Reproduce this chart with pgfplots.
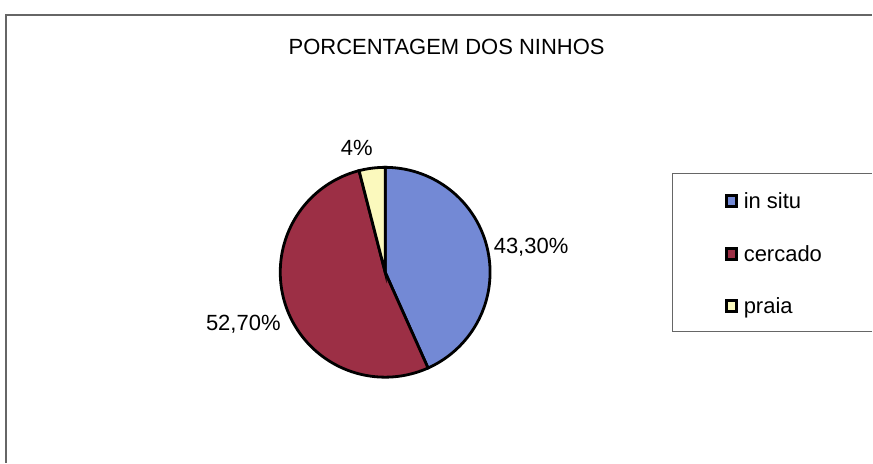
\documentclass[border=0pt]{standalone}
\usepackage{pgfplots}
\pgfplotsset{compat=1.18}
\usepackage{pgfplotstable}
\usepackage{fontspec}
\setmainfont{Liberation Sans}
\definecolor{cblue}{HTML}{7389D5}
\definecolor{cred}{HTML}{9C2F45}
\definecolor{cyel}{HTML}{FBF9BD}
\pgfplotstableread{
label value
insitu 43.3
cercado 52.7
praia 4
}\piedata
\pgfplotstablegetelem{0}{value}\of\piedata \let\va\pgfplotsretval
\pgfplotstablegetelem{1}{value}\of\piedata \let\vb\pgfplotsretval
\pgfplotstablegetelem{2}{value}\of\piedata \let\vc\pgfplotsretval
\pgfmathsetmacro\aA{90}
\pgfmathsetmacro\aB{90-3.6*\va}
\pgfmathsetmacro\aC{\aB-3.6*\vb}
\pgfmathsetmacro\aD{\aC-3.6*\vc}
\def\cx{385.5}
\def\cy{190.5}
\def\rr{105}
\begin{document}
\begin{tikzpicture}
\begin{axis}[
  scale only axis, width=873pt, height=463pt,
  xmin=0, xmax=873, ymin=0, ymax=463,
  hide axis, clip=false,
  legend image code/.code={\draw[#1, draw=black, line width=3.2pt] (0pt,-5pt) rectangle (10pt,6pt);},
  legend style={at={(axis cs:725,271)}, anchor=north west, draw=none, fill=none,
    inner sep=0pt, row sep=33pt, column sep=5pt, font=\fontsize{22}{22}\selectfont,
    nodes={inner sep=1pt}},
  legend cell align=left,
]
\path (axis cs:0,0) rectangle (axis cs:873,463);
\draw[black!60, line width=1.5pt] (axis cs:6,0) -- (axis cs:6,448) -- (axis cs:873,448);
\draw[black!60, line width=1.2pt] (axis cs:873,131) -- (axis cs:673,131) -- (axis cs:673,289) -- (axis cs:873,289);
\addplot[fill=cblue, draw=black, line width=2.8pt, domain=\aB:\aA, samples=80]
  ({\cx+\rr*cos(x)},{\cy+\rr*sin(x)}) -- (axis cs:\cx,\cy) -- cycle;
\addlegendentry{in situ}
\addplot[fill=cred, draw=black, line width=2.8pt, domain=\aC:\aB, samples=120]
  ({\cx+\rr*cos(x)},{\cy+\rr*sin(x)}) -- (axis cs:\cx,\cy) -- cycle;
\addlegendentry{cercado}
\addplot[fill=cyel, draw=black, line width=2.8pt, domain=\aD:\aC, samples=20]
  ({\cx+\rr*cos(x)},{\cy+\rr*sin(x)}) -- (axis cs:\cx,\cy) -- cycle;
\addlegendentry{praia}
\node[font=\fontsize{22}{22}\selectfont] at (axis cs:447,416) {PORCENTAGEM DOS NINHOS};
\node[font=\fontsize{22}{22}\selectfont] at (axis cs:357,315) {4\%};
\node[font=\fontsize{22}{22}\selectfont, anchor=west, inner sep=0pt] at (axis cs:494,216) {43,30\%};
\node[font=\fontsize{22}{22}\selectfont, anchor=east, inner sep=0pt] at (axis cs:281,138) {52,70\%};
\end{axis}
\end{tikzpicture}
\end{document}
